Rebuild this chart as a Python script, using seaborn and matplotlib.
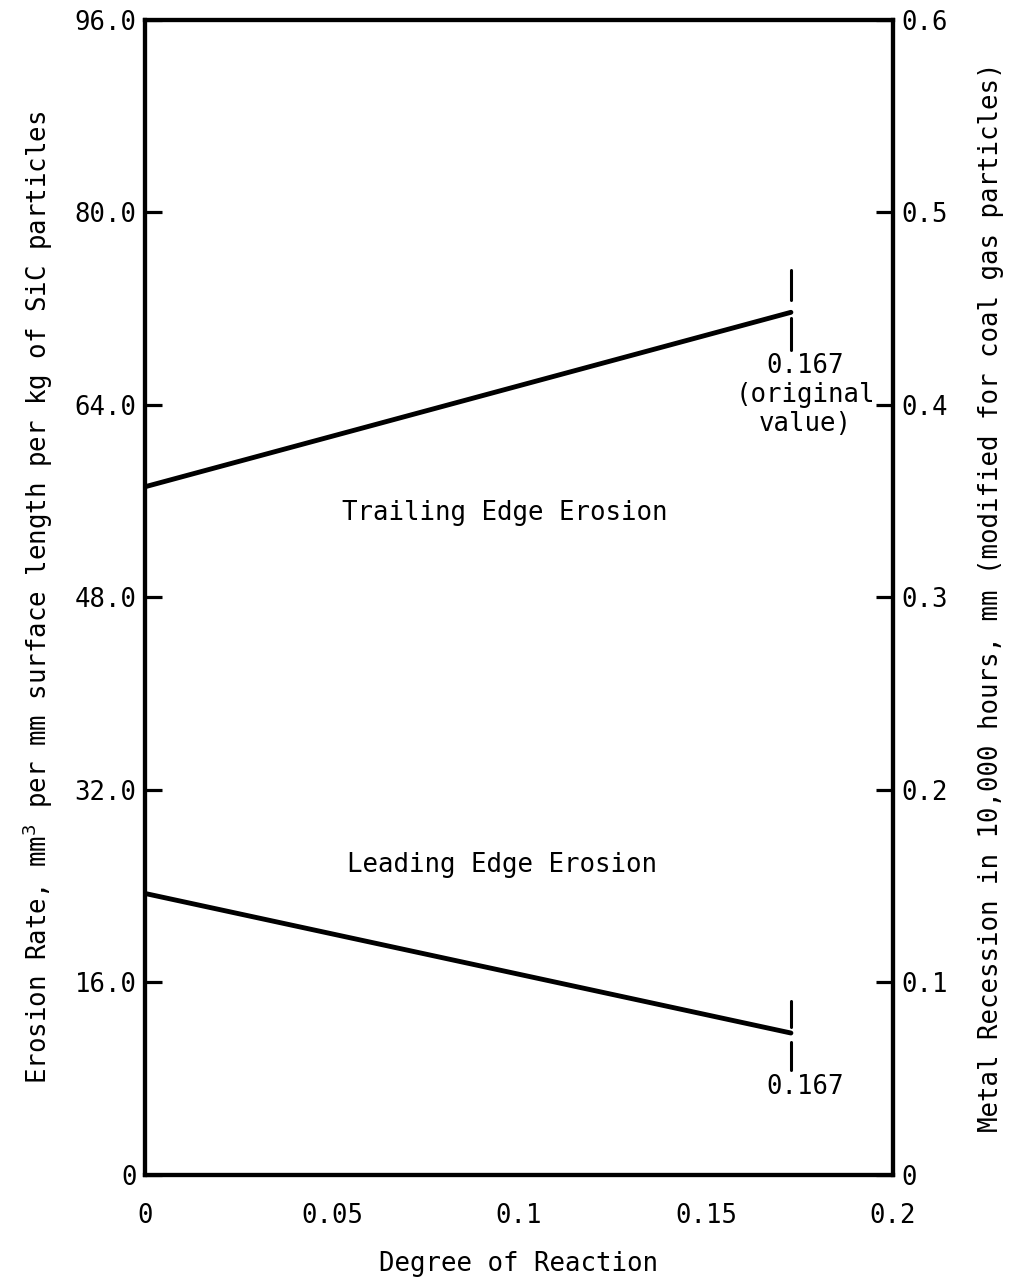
import pandas as pd
import seaborn as sns
import matplotlib.pyplot as plt

# data
degree = [0.0, 0.1727]
trailing = [57.2, 71.7]
leading = [23.4, 11.8]
left_ticks = [0, 16, 32, 48, 64, 80, 96]
left_labels = ['0', '16.0', '32.0', '48.0', '64.0', '80.0', '96.0']
right_ticks = [0, 0.1, 0.2, 0.3, 0.4, 0.5, 0.6]
right_labels = ['0', '0.1', '0.2', '0.3', '0.4', '0.5', '0.6']
x_ticks = [0, 0.05, 0.1, 0.15, 0.2]
x_labels = ['0', '0.05', '0.1', '0.15', '0.2']

df = pd.DataFrame({
    'Degree': degree * 2,
    'Rate': trailing + leading,
    'Edge': ['Trailing'] * 2 + ['Leading'] * 2,
})

sns.set_style('white')
plt.rcParams['font.family'] = ['DejaVu Sans Mono']
plt.rcParams['text.color'] = 'black'
plt.rcParams['axes.labelcolor'] = 'black'

fs = 18.5

fig = plt.figure(figsize=(10.11, 12.78), dpi=100)
ax = fig.add_axes([0.1434, 0.0806, 0.7399, 0.9038])

sns.lineplot(data=df, x='Degree', y='Rate', units='Edge', estimator=None,
             color='black', lw=3.5, ax=ax, legend=False)

ax.set_xlim(0, 0.2)
ax.set_ylim(0, 96)
ax.set_xticks(x_ticks)
ax.set_xticklabels(x_labels)
ax.set_yticks(left_ticks)
ax.set_yticklabels(left_labels)
ax.tick_params(direction='in', length=12, width=2.3, labelsize=fs, colors='black')
ax.tick_params(axis='x', pad=20)
ax.tick_params(axis='y', pad=6)
for s in ax.spines.values():
    s.set_linewidth(3)
    s.set_color('black')

ax.set_xlabel('Degree of Reaction', fontsize=fs, labelpad=16)
ax.set_ylabel('Erosion Rate, mm$^3$ per mm surface length per kg of SiC particles',
              fontsize=fs, labelpad=14)

# markers at the original value
xm = degree[1]
ax.plot([xm, xm], [75.2, 72.7], color='black', lw=2.2)
ax.plot([xm, xm], [71.2, 68.6], color='black', lw=2.2)
ax.plot([xm, xm], [14.5, 12.3], color='black', lw=2.2)
ax.plot([xm, xm], [11.05, 8.7], color='black', lw=2.2)

ax.text(0.1765, 68.3, '0.167\n(original\nvalue)', ha='center', va='top',
        fontsize=fs, linespacing=1.15)
ax.text(0.1765, 8.4, '0.167', ha='center', va='top', fontsize=fs)
ax.text(0.0963, 55.0, 'Trailing Edge Erosion', ha='center', va='center', fontsize=fs)
ax.text(0.0955, 25.8, 'Leading Edge Erosion', ha='center', va='center', fontsize=fs)

ax2 = ax.twinx()
ax2.set_ylim(0, 0.6)
ax2.set_yticks(right_ticks)
ax2.set_yticklabels(right_labels)
ax2.tick_params(direction='in', length=12, width=2.3, labelsize=fs, pad=6,
                colors='black')
for s in ax2.spines.values():
    s.set_linewidth(3)
    s.set_color('black')
ax2.set_ylabel('Metal Recession in 10,000 hours, mm (modified for coal gas particles)',
               fontsize=fs, labelpad=22)

fig.savefig('out.png', dpi=100)
